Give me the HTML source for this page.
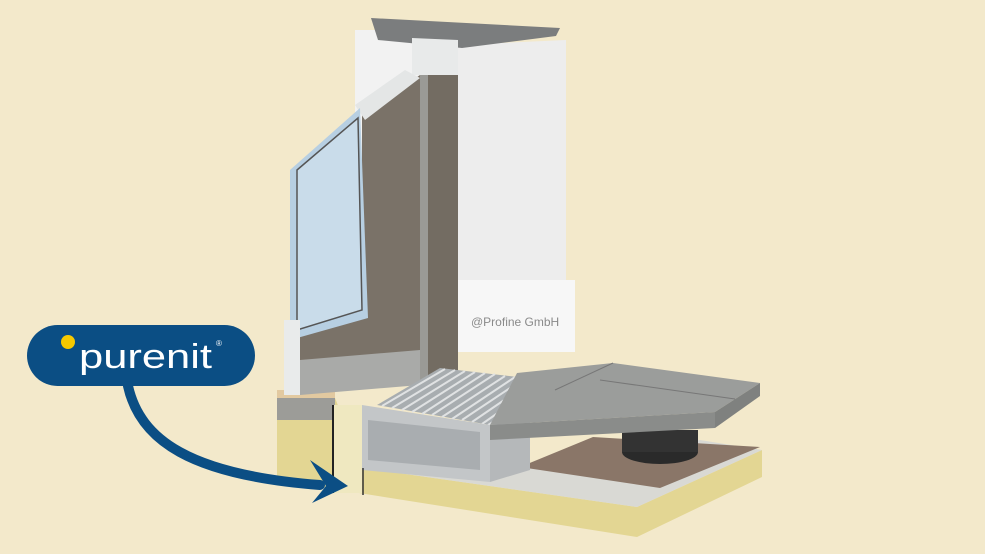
<!DOCTYPE html>
<html><head><meta charset="utf-8"><style>
html,body{margin:0;padding:0;background:#f3e9cb;}
svg{display:block}
</style></head><body>
<svg width="985" height="554" viewBox="0 0 985 554" xmlns="http://www.w3.org/2000/svg">
<rect width="985" height="554" fill="#f3e9cb"/>
<!-- base slab -->
<polygon points="277,398 335,398 363,468 637,507 762,450 762,477 637,537 277,480" fill="#e3d693"/>
<polygon points="277,398 335,398 335,420 277,420" fill="#9c9c98"/>
<polygon points="277,390 335,390 335,398 277,398" fill="#e2c9a0"/>
<polygon points="363,468 637,507 762,450 700,440 520,470 500,470" fill="#d9d9d4"/>
<polygon points="520,467 593,437 760,447 660,488" fill="#8a7668"/>
<!-- wall -->
<rect x="355" y="30" width="105" height="270" fill="#f2f2f2"/>
<polygon points="458,45 566,40 566,290 458,292" fill="#ededed"/>
<polygon points="371,18 560,28 556,36 462,48 378,40" fill="#7b7d7e"/>
<polygon points="457,280 575,280 575,352 457,352" fill="#f7f7f7"/>
<text x="471" y="326" font-family="Liberation Sans, sans-serif" font-size="12" fill="#8a8a8a">@Profine GmbH</text>
<!-- frame -->
<rect x="420" y="40" width="38" height="360" fill="#736c62"/>
<rect x="420" y="75" width="8" height="320" fill="#9a9a96"/>
<polygon points="412,38 458,40 458,75 412,75" fill="#e8eaea"/>
<!-- sash -->
<polygon points="362,115 420,75 420,378 300,392 290,330 362,318" fill="#7a7268"/>
<polygon points="355,105 405,70 420,78 365,120" fill="#e4e6e6"/>
<!-- glass -->
<polygon points="290,170 360,108 368,318 290,340" fill="#b7cfe2"/>
<polygon points="297,170 358,118 362,310 297,330" fill="#c9dcea" stroke="#555" stroke-width="1.5"/>
<polygon points="284,320 300,320 300,395 284,395" fill="#e9ebeb"/>
<polygon points="300,360 420,350 420,385 300,395" fill="#a9aaa8"/>
<!-- grate -->
<polygon points="440,368 570,383 490,425 377,405" fill="#a8adb0"/>
<g stroke="#e0e2e3" stroke-width="2">
<line x1="445" y1="369" x2="382" y2="406"/><line x1="455" y1="370" x2="392" y2="408"/>
<line x1="465" y1="371" x2="402" y2="410"/><line x1="475" y1="372" x2="412" y2="412"/>
<line x1="485" y1="373" x2="422" y2="414"/><line x1="495" y1="374" x2="432" y2="415"/>
<line x1="505" y1="376" x2="442" y2="417"/><line x1="515" y1="377" x2="452" y2="419"/>
<line x1="525" y1="378" x2="462" y2="420"/><line x1="535" y1="379" x2="472" y2="422"/>
<line x1="545" y1="380" x2="482" y2="424"/><line x1="558" y1="382" x2="488" y2="425"/>
</g>
<!-- channel -->
<polygon points="362,405 490,425 490,482 362,470" fill="#c3c6c8"/>
<polygon points="368,420 480,432 480,470 368,460" fill="#a9adb0"/>
<polygon points="490,425 530,420 530,470 490,482" fill="#b5b8ba"/>
<!-- foam -->
<rect x="334" y="405" width="28" height="88" fill="#efe8c0"/>
<line x1="333" y1="405" x2="333" y2="493" stroke="#222" stroke-width="2"/>
<line x1="363" y1="468" x2="363" y2="495" stroke="#333" stroke-width="1.5"/>
<!-- pedestal -->
<ellipse cx="660" cy="452" rx="38" ry="12" fill="#2a2a2a"/>
<rect x="622" y="430" width="76" height="22" fill="#333"/>
<!-- paving -->
<polygon points="517,373 613,363 760,383 715,412 490,425" fill="#9b9d9b"/>
<polygon points="490,425 715,412 715,428 490,440" fill="#8a8c8a"/>
<polygon points="715,412 760,383 760,396 715,428" fill="#7f817f"/>
<line x1="613" y1="363" x2="555" y2="390" stroke="#777" stroke-width="1"/>
<line x1="600" y1="380" x2="735" y2="399" stroke="#777" stroke-width="1"/>
<!-- logo -->
<rect x="27" y="325" width="228" height="61" rx="30.5" fill="#0b4e84"/>
<circle cx="68" cy="342" r="7" fill="#f6c900"/>
<text x="79" y="368" font-family="Liberation Sans, sans-serif" font-size="34" fill="#fff" textLength="133" lengthAdjust="spacingAndGlyphs">purenit</text>
<text x="216" y="346" font-family="Liberation Sans, sans-serif" font-size="8" fill="#fff">®</text>
<!-- arrow -->
<path d="M128,386 C140,440 190,475 320,485" fill="none" stroke="#0b4e84" stroke-width="10" stroke-linecap="round"/>
<path d="M310,460 L348,486 L312,503 L326,486 Z" fill="#0b4e84"/>
</svg>
</body></html>
